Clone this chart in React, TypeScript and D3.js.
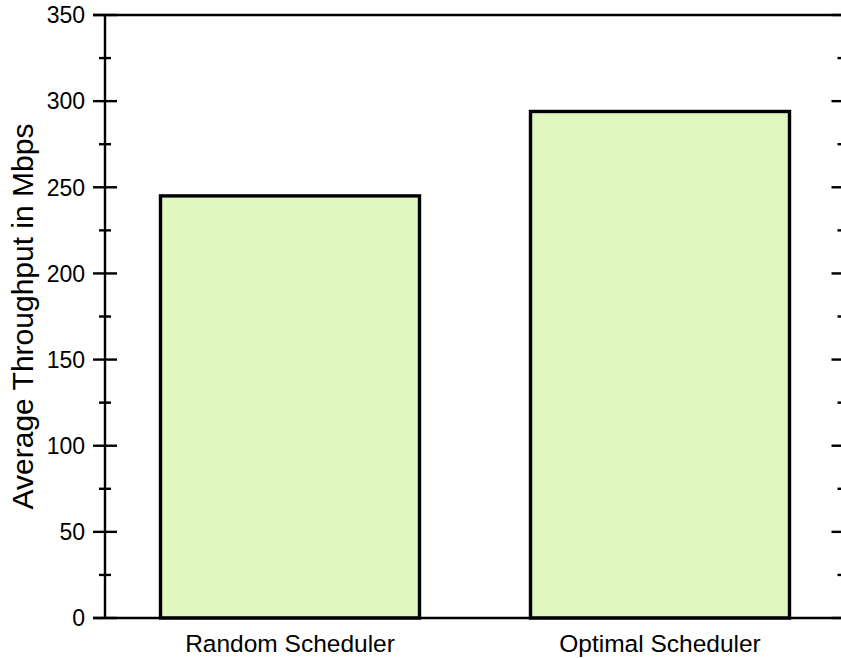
import React from "react";
import * as d3 from "d3";

const categories = ["Random Scheduler", "Optimal Scheduler"];
const values = [245, 294];
const yMajorTicks = [0, 50, 100, 150, 200, 250, 300, 350];
const yMinorTicks = [25, 75, 125, 175, 225, 275, 325];

const W = 841;
const H = 659;
const left = 105;
const right = 843.5;
const top = 15;
const bottom = 618;
const font = "Arial, 'Liberation Sans', sans-serif";

export default function App() {
  const y = d3.scaleLinear().domain([0, 350]).range([bottom, top]);
  const x = d3
    .scaleBand<string>()
    .domain(categories)
    .range([left, 845])
    .paddingInner(0.3)
    .paddingOuter(0.15);

  return (
    <svg
      width={W}
      height={H}
      style={{ position: "absolute", left: 0, top: 0, background: "#fff" }}
    >
      {categories.map((c, i) => (
        <rect
          key={c}
          x={x(c)!}
          y={y(values[i])}
          width={x.bandwidth()}
          height={bottom - y(values[i])}
          fill="#e0f7c0"
          stroke="#000"
          strokeWidth={3.4}
        />
      ))}
      {/* frame */}
      <line x1={left - 12} x2={W + 5} y1={top} y2={top} stroke="#000" strokeWidth={2.4} />
      <line x1={left - 12} x2={W + 5} y1={bottom} y2={bottom} stroke="#000" strokeWidth={2.4} />
      <line x1={left} x2={left} y1={top} y2={bottom} stroke="#000" strokeWidth={2.4} />
      <line x1={right} x2={right} y1={top} y2={bottom} stroke="#000" strokeWidth={2.4} />
      {yMajorTicks.map((t) => (
        <g key={"M" + t}>
          <line x1={left - 12} x2={left + 12} y1={y(t)} y2={y(t)} stroke="#000" strokeWidth={2.4} />
          <line x1={right - 12} x2={right + 12} y1={y(t)} y2={y(t)} stroke="#000" strokeWidth={2.4} />
          <text
            x={left - 20}
            y={y(t)}
            dy="0.36em"
            textAnchor="end"
            fontFamily={font}
            fontSize={23}
            fill="#000"
          >
            {t}
          </text>
        </g>
      ))}
      {yMinorTicks.map((t) => (
        <g key={"m" + t}>
          <line x1={left - 6} x2={left + 6} y1={y(t)} y2={y(t)} stroke="#000" strokeWidth={2.4} />
          <line x1={right - 6} x2={right + 6} y1={y(t)} y2={y(t)} stroke="#000" strokeWidth={2.4} />
        </g>
      ))}
      {categories.map((c) => (
        <text
          key={"l" + c}
          x={x(c)! + x.bandwidth() / 2}
          y={652}
          textAnchor="middle"
          fontFamily={font}
          fontSize={24.5}
          fill="#000"
        >
          {c}
        </text>
      ))}
      <text
        transform={`translate(33, ${(top + bottom) / 2}) rotate(-90)`}
        textAnchor="middle"
        fontFamily={font}
        fontSize={30}
        fill="#000"
      >
        Average Throughput in Mbps
      </text>
    </svg>
  );
}
